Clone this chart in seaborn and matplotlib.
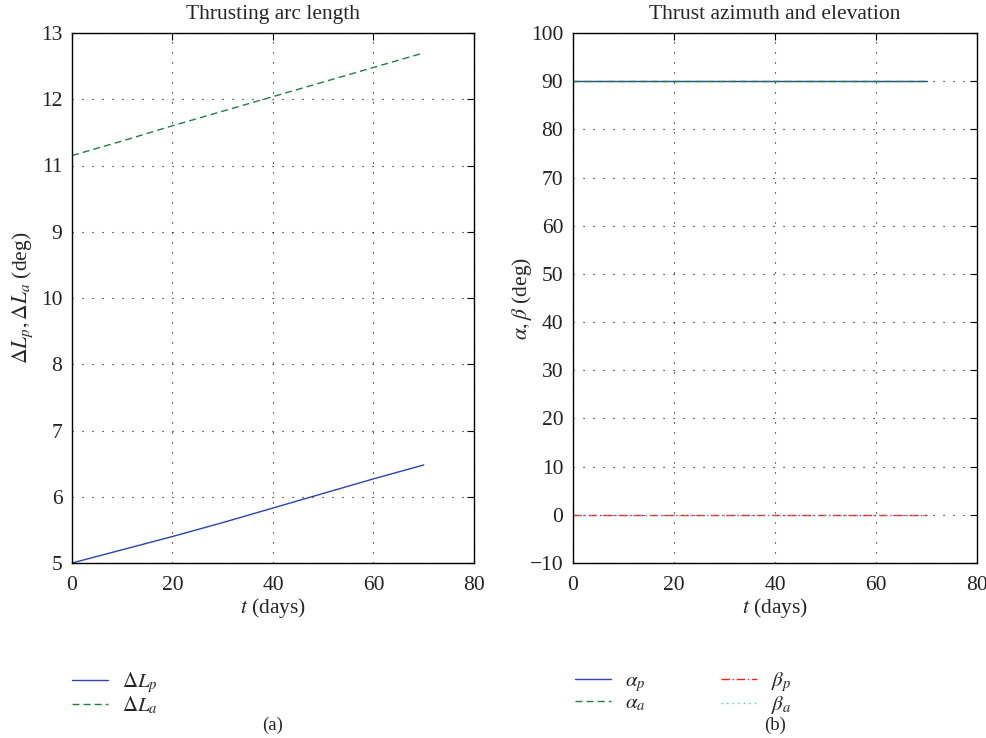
import numpy as np
import pandas as pd
import matplotlib
matplotlib.use("Agg")
import matplotlib.pyplot as plt
import seaborn as sns

# ---- data ----
t_days = [0, 10, 20, 30, 40, 50, 60, 70]
dL_p = [5.00, 5.20, 5.40, 5.61, 5.83, 6.05, 6.27, 6.48]
dL_a = [11.15, 11.37, 11.60, 11.82, 12.04, 12.26, 12.48, 12.70]
alpha_p = [90, 90, 90, 90, 90, 90, 90, 90]
alpha_a = [90, 90, 90, 90, 90, 90, 90, 90]
beta_p = [0, 0, 0, 0, 0, 0, 0, 0]
beta_a = [0, 0, 0, 0, 0, 0, 0, 0]

left_yticks = [5, 6, 7, 8, 9, 10, 11, 12, 13]
left_yticklabels = ["5", "6", "7", "8", "10", "9", "11", "12", "13"]
right_yticks = [-10, 0, 10, 20, 30, 40, 50, 60, 70, 80, 90, 100]
xticks = [0, 20, 40, 60, 80]

sns.set_style("white")
plt.rcParams["font.family"] = ["Liberation Serif", "DejaVu Serif"]
plt.rcParams["mathtext.fontset"] = "stix"
plt.rcParams["xtick.direction"] = "in"
plt.rcParams["ytick.direction"] = "in"

fig = plt.figure(figsize=(9.87, 7.38), dpi=100)
W, H = 987, 738
axL = fig.add_axes([72 / W, 1 - 563 / H, (474 - 72) / W, (563 - 33) / H])
axR = fig.add_axes([573 / W, 1 - 563 / H, (977 - 573) / W, (563 - 33) / H])

blue = "#2a44b0"
green = "#1e8040"
red = "#ff1a1a"
cyan = "#33cccc"

df = pd.DataFrame({"t": t_days, "dLp": dL_p, "dLa": dL_a,
                   "ap": alpha_p, "aa": alpha_a, "bp": beta_p, "ba": beta_a})

sns.lineplot(data=df, x="t", y="dLp", ax=axL, color=blue, lw=1.0, label=r"$\Delta L_p$")
sns.lineplot(data=df, x="t", y="dLa", ax=axL, color=green, lw=1.0, ls=(0, (5, 3)), label=r"$\Delta L_a$")

sns.lineplot(data=df, x="t", y="ap", ax=axR, color=blue, lw=1.0, label=r"$\alpha_p$")
sns.lineplot(data=df, x="t", y="aa", ax=axR, color=green, lw=1.0, ls=(0, (5, 3)), label=r"$\alpha_a$")
sns.lineplot(data=df, x="t", y="bp", ax=axR, color=red, lw=1.0, ls=(0, (6, 2, 1, 2)), label=r"$\beta_p$")
sns.lineplot(data=df, x="t", y="ba", ax=axR, color=cyan, lw=1.0, ls=(0, (1, 3)), label=r"$\beta_a$")

for ax in (axL, axR):
    ax.set_xlim(0, 80)
    ax.set_xticks(xticks)
    ax.grid(True, color="black", ls=(0, (1, 8)), lw=0.8)
    for s in ax.spines.values():
        s.set_color("black")
        s.set_linewidth(1.0)
    ax.tick_params(axis="both", labelsize=15.5, length=5, width=0.8, color="black",
                   top=True, right=True, labelcolor="#222222")
    ax.tick_params(axis="x", pad=9)
    ax.tick_params(axis="y", pad=7)
    ax.set_xlabel(r"$t$ (days)", fontsize=15.5, labelpad=1)

axL.set_ylim(5, 13)
axL.set_yticks(left_yticks)
axL.set_yticklabels(left_yticklabels)
axL.set_ylabel(r"$\Delta L_p, \Delta L_a$ (deg)", fontsize=15.5, labelpad=4)
axL.set_title("Thrusting arc length", fontsize=15.5, pad=10)

axR.set_ylim(-10, 100)
axR.set_yticks(right_yticks)
axR.set_yticklabels([("\u221210" if v == -10 else str(v)) for v in right_yticks])
axR.set_ylabel(r"$\alpha, \beta$ (deg)", fontsize=15.5, labelpad=-3)
axR.set_title("Thrust azimuth and elevation", fontsize=15.5, pad=10)

leg_kw = dict(loc="upper left", frameon=False, fontsize=15, handlelength=1.75,
              handletextpad=0.65, labelspacing=0.0, borderpad=0, borderaxespad=0)
axL.legend(bbox_to_anchor=(0.0, -0.202), **leg_kw)
axR.legend(bbox_to_anchor=(0.005, -0.202), ncol=2, columnspacing=3.6, **leg_kw)

fig.text(273 / W, 1 - 725 / H, "(a)", ha="center", va="center", fontsize=13.5)
fig.text(775 / W, 1 - 725 / H, "(b)", ha="center", va="center", fontsize=13.5)

fig.savefig("out.png", dpi=100)
